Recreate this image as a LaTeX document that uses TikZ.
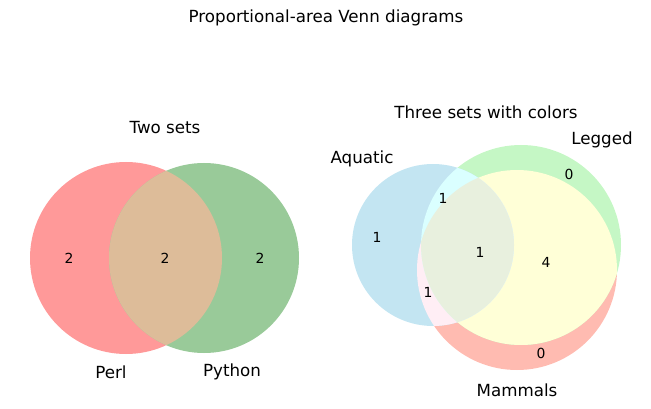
\documentclass[tikz,border=0pt]{standalone}
\usepackage{fontspec}
\setmainfont{DejaVu Sans}
\definecolor{perlred}{RGB}{255,153,153}
\definecolor{pygreen}{RGB}{153,202,153}
\definecolor{bothtan}{RGB}{221,188,153}
\definecolor{aqblue}{RGB}{195,229,242}
\definecolor{leggreen}{RGB}{197,247,197}
\definecolor{mamsalmon}{RGB}{255,187,177}
\definecolor{legmam}{RGB}{255,255,215}
\definecolor{aqmam}{RGB}{255,238,245}
\definecolor{aqleg}{RGB}{218,255,255}
\definecolor{allthree}{RGB}{232,240,222}
\tikzset{
  title/.style={font=\fontsize{16.7}{18}\selectfont},
  setname/.style={font=\fontsize{16.7}{18}\selectfont},
  count/.style={font=\fontsize{13.9}{15}\selectfont}
}
\begin{document}
\begin{tikzpicture}[x=1pt,y=-1pt]
\useasboundingbox (0,0) rectangle (651,409);
% Titles
\node[title] (main) at (326,18) {Proportional-area Venn diagrams};
\node[title] (ttwo) at (165,128) {Two sets};
\node[title] (tthree) at (486,112) {Three sets with colors};

% Two sets
\fill[perlred] (126,258) circle (96);
\fill[pygreen] (204,258) circle (95);
\begin{scope}
  \clip (126,258) circle (96);
  \fill[bothtan] (204,258) circle (95);
\end{scope}
\node[count] (pl) at (69,258) {2};
\node[count] (pb) at (165,258) {2};
\node[count] (py) at (260,258) {2};
\node[setname] (perl) at (111,372) {Perl};
\node[setname] (python) at (232,372) {Python};

% Three sets
\fill[mamsalmon] (517,270) circle (100);
\fill[leggreen] (521,245) circle (100);
\fill[aqblue] (433,245) circle (81);
\begin{scope}
  \clip (517,270) circle (100);
  \fill[legmam] (521,245) circle (100);
  \fill[aqmam] (433,245) circle (81);
\end{scope}
\begin{scope}
  \clip (521,245) circle (100);
  \fill[aqleg] (433,245) circle (81);
  \clip (517,270) circle (100);
  \fill[allthree] (433,245) circle (81);
\end{scope}
\node[count] (ca) at (377,237) {1};
\node[count] (cal) at (443,198) {1};
\node[count] (cl) at (569,174) {0};
\node[count] (call) at (480,252) {1};
\node[count] (clm) at (546,262) {4};
\node[count] (cam) at (428,292) {1};
\node[count] (cm) at (541,353) {0};
\node[setname] (aquatic) at (362,159) {Aquatic};
\node[setname] (legged) at (602,140) {Legged};
\node[setname] (mammals) at (517,390) {Mammals};
\end{tikzpicture}
\end{document}
